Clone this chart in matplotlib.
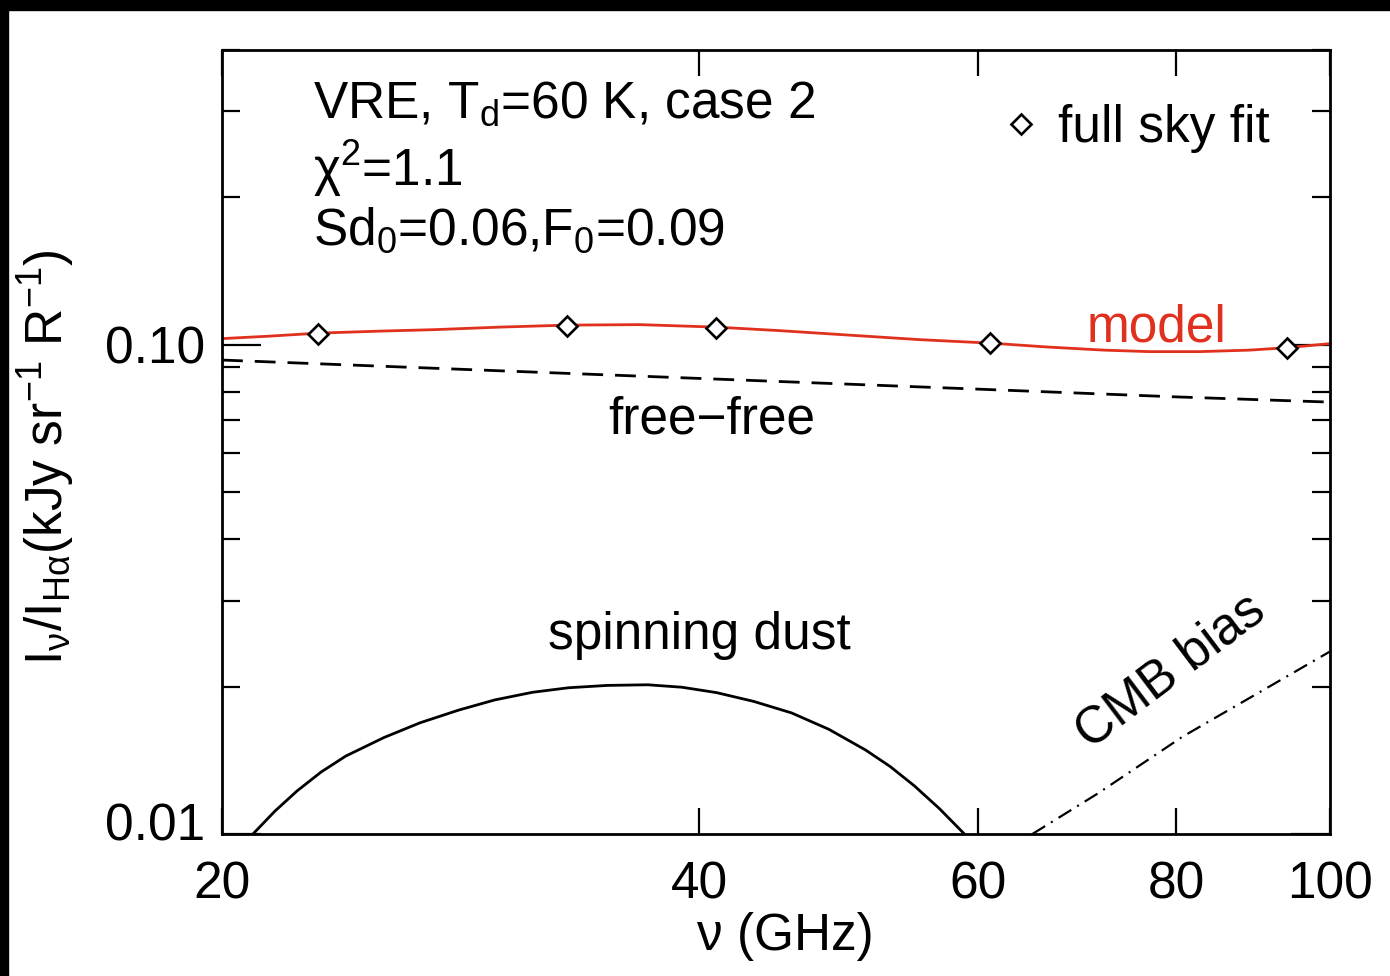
import matplotlib
matplotlib.use("Agg")
import matplotlib.pyplot as plt
from matplotlib.lines import Line2D
from matplotlib.patches import Rectangle
from matplotlib.transforms import ScaledTranslation
from matplotlib.ticker import FixedLocator, NullFormatter, FixedFormatter

plt.rcParams.update({
    "font.family": ["Liberation Sans", "DejaVu Sans"],
    "mathtext.default": "regular",
    "font.size": 37,
})

# full sky fit points (WMAP bands)
fit_nu = [23, 33, 41, 61, 94]
fit_val = [0.1053, 0.1094, 0.1083, 0.1009, 0.0983]

# model (red)
model_nu = [20, 21.44, 23.0, 25.15, 27.25, 29.94, 33.0, 36.69, 41.02, 44.95,
            49.76, 55.08, 61.06, 66.52, 72.04, 76.91, 82.69, 88.92, 94.10, 100]
model_val = [0.10287, 0.10408, 0.10556, 0.10656, 0.10731, 0.10859, 0.10961,
             0.10987, 0.10859, 0.10681, 0.10457, 0.10238, 0.10071, 0.09883,
             0.09744, 0.09676, 0.09676, 0.09744, 0.09860, 0.10047]

# free-free (dashed)
ff_nu = [20, 30, 40, 60, 80, 100]
ff_val = [0.0930, 0.0884, 0.0853, 0.0811, 0.0782, 0.0763]

# spinning dust
sd_nu = [20.92, 21.6, 22.30, 23.1, 23.94, 25.3, 26.66, 28.2, 29.72, 31.4, 33.09,
         35.0, 37.12, 39.0, 41.02, 43.3, 45.74, 48.3, 50.93, 52.8, 54.68, 56.7, 58.80]
sd_val = [0.01000, 0.01114, 0.01224, 0.01339, 0.01443, 0.01574, 0.01687, 0.01791,
          0.01879, 0.01948, 0.01990, 0.02012, 0.02018, 0.01995, 0.01945, 0.01866,
          0.01768, 0.01636, 0.01485, 0.01373, 0.01254, 0.01127, 0.01000]

# CMB bias (dash-dot)
cmb_nu = [64.9, 71.4, 80.7, 100]
cmb_val = [0.0100, 0.01211, 0.01580, 0.0236]

x_ticks = [20, 40, 60, 80, 100]
y_major = [0.01, 0.10]
y_major_labels = ["0.01", "0.10"]
y_minor = [0.02, 0.03, 0.04, 0.05, 0.06, 0.07, 0.08, 0.09, 0.2, 0.3, 0.4]

RED = "#e0301e"
FS = 37

fig = plt.figure(figsize=(13.9, 9.76), dpi=100)
ax = fig.add_axes([222 / 1390, 1 - 834 / 976, (1330 - 222) / 1390, (834 - 50) / 976])

lw = 2.0
ax.plot(model_nu, model_val, color=RED, lw=lw)
ax.plot(ff_nu, ff_val, color="black", lw=lw, ls=(0, (7.5, 4.3)))
ax.plot(sd_nu, sd_val, color="black", lw=lw)
ax.plot(cmb_nu, cmb_val, color="black", lw=1.6, ls=(0, (6.75, 3.1, 0.9, 3.1)))
ax.plot(fit_nu, fit_val, ls="none", marker="D", ms=10.5, mfc="white", mec="black", mew=1.9)

ax.set_xscale("log")
ax.set_yscale("log")
ax.set_xlim(20, 100)
ax.set_ylim(0.01, 0.4)

ax.xaxis.set_major_locator(FixedLocator(x_ticks))
ax.xaxis.set_major_formatter(FixedFormatter([str(v) for v in x_ticks]))
ax.xaxis.set_minor_locator(FixedLocator([]))
ax.yaxis.set_major_locator(FixedLocator(y_major))
ax.yaxis.set_major_formatter(FixedFormatter(y_major_labels))
ax.yaxis.set_minor_locator(FixedLocator(y_minor))
ax.yaxis.set_minor_formatter(NullFormatter())

ax.tick_params(axis="both", which="both", direction="in", top=True, right=True,
               width=1.6, labelsize=FS)
ax.tick_params(axis="x", which="major", length=19, pad=19)
ax.tick_params(axis="y", which="major", length=28, pad=12)
ax.tick_params(axis="y", which="minor", length=13)
for s in ax.spines.values():
    s.set_linewidth(2)

ax.set_xlabel("ν (GHz)", fontsize=FS)
ax.xaxis.set_label_coords(0.508, -0.099)
ax.set_ylabel("I$_{ν}$/I$_{Hα}$(kJy sr$^{-1}$ R$^{-1}$)", fontsize=FS)
ax.yaxis.set_label_coords(-0.131, 0.48)

# lift the bottom y label a little, as in the original
fig.canvas.draw()
t0 = ax.yaxis.get_major_ticks()[0]
t0.label1.set_transform(t0.label1.get_transform()
                        + ScaledTranslation(0, 0.13, fig.dpi_scale_trans))

ax.text(0.082, 0.962, "VRE, T$_{d}$=60 K, case 2\nχ$^{2}$=1.1\nSd$_{0}$=0.06,F$_{0}$=0.09",
        transform=ax.transAxes, ha="left", va="top", fontsize=FS, linespacing=1.19)

ax.text(77.7, 0.1083, "model", color=RED, fontsize=FS, ha="center", va="center")
ax.text(0.442, 0.528, "free\u2212free", transform=ax.transAxes, fontsize=FS,
        ha="center", va="center")
ax.text(0.431, 0.253, "spinning dust", transform=ax.transAxes, fontsize=FS,
        ha="center", va="center")
ax.text(0.856, 0.207, "CMB bias", transform=ax.transAxes, fontsize=FS,
        ha="center", va="center", rotation=37)

handle = Line2D([], [], ls="none", marker="D", ms=10.5, mfc="white", mec="black", mew=1.9)
ax.legend([handle], ["full sky fit"], loc="upper right", bbox_to_anchor=(0.964, 0.957),
          frameon=False, fontsize=FS, handlelength=0.55, handletextpad=0.45, borderaxespad=0)

# dark scan border at top and left
fig.patches.append(Rectangle((0, 1 - 10 / 976), 1, 10 / 976, transform=fig.transFigure,
                             color="black", zorder=10))
fig.patches.append(Rectangle((0, 0), 8 / 1390, 1, transform=fig.transFigure,
                             color="black", zorder=10))

fig.savefig("out.png", dpi=100)
